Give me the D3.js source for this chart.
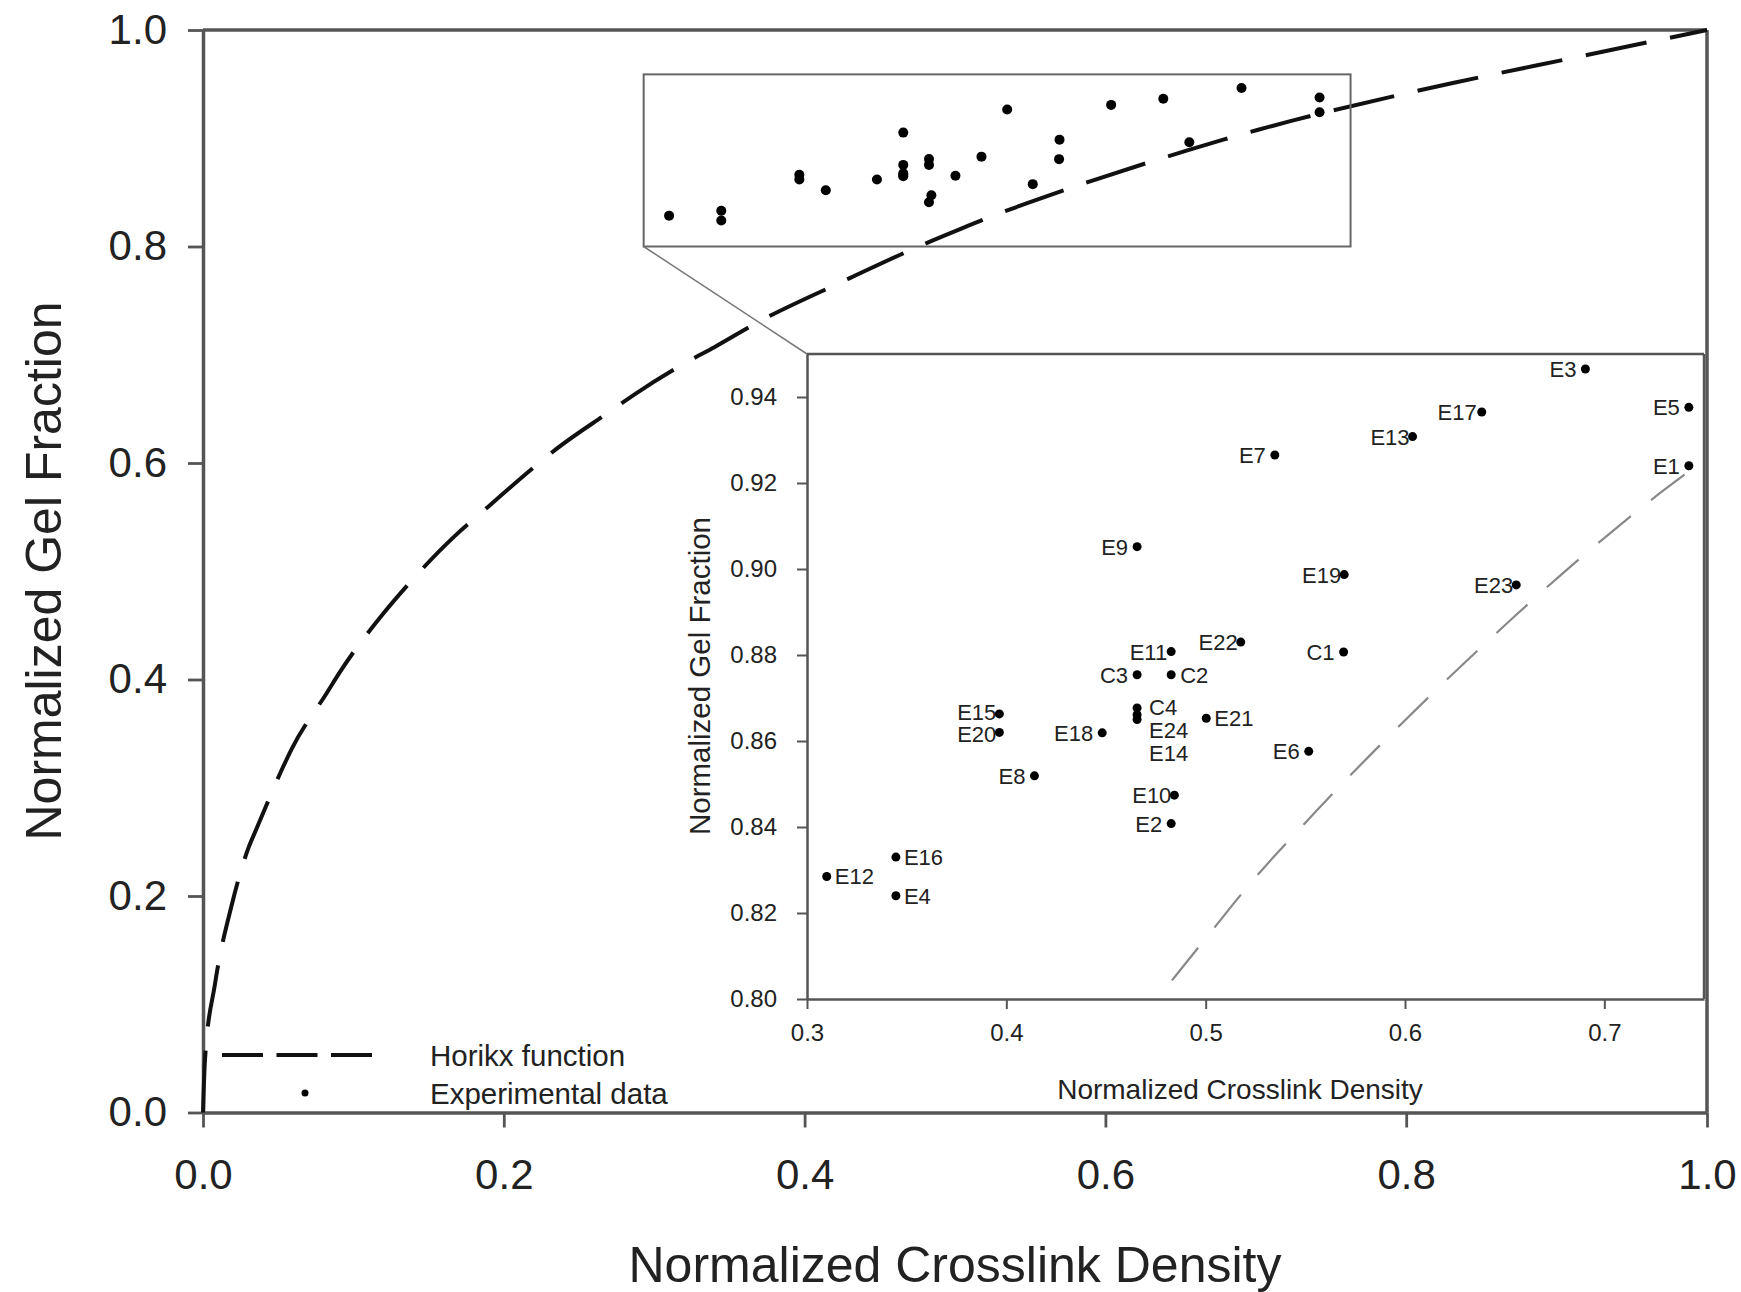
<!DOCTYPE html>
<html>
<head>
    <meta charset="utf-8">
    <title>Normalized Gel Fraction vs Crosslink Density</title>
    <script src="https://d3js.org/d3.v7.min.js"></script>
    <style>
        body{ margin: 0; background: #fff; }
        svg{ font-family: "Liberation Sans", Arial, sans-serif; }
    </style>
</head>
<body>
    <svg id="chart" width="1741" height="1292"></svg>
    <script>
        /* experimental samples */
        var names = ["E1","E2","E3","E4","E5","E6","E7","E8","E9","E10","E11","E12","E13","E14",
                     "E15","E16","E17","E18","E19","E20","E21","E22","E23","E24","C1","C2","C3","C4"];
        var crosslink = [0.7424,0.4827,0.6905,0.3446,0.7424,0.5517,0.5347,0.4141,0.4656,0.4843,0.4827,0.3099,0.6038,0.4656,
                         0.3965,0.3446,0.6385,0.4481,0.5695,0.3965,0.5003,0.5176,0.6558,0.4656,0.5692,0.4827,0.4656,0.4656];
        var gel = [0.9240,0.8408,0.9465,0.8240,0.9376,0.8576,0.9265,0.8519,0.9052,0.8474,0.8808,0.8285,0.9308,0.8650,
                   0.8663,0.8330,0.9365,0.8619,0.8987,0.8620,0.8653,0.8830,0.8963,0.8661,0.8807,0.8754,0.8754,0.8677];

        /* Horikx function */
        var horikxX = [0,0.0013,0.008,0.0191,0.0301,0.0357,0.0523,0.059,0.0822,0.0911,0.1199,0.134,0.167,0.185,
                       0.220,0.235,0.271,0.2865,0.324,0.340,0.3695,0.4227,0.4807,0.5042,0.5226,0.548,0.6315,0.655,
                       0.6784,0.701,0.7236,0.7504,0.831,0.910,1.0];
        var horikxY = [0,0.0485,0.119,0.1917,0.244,0.2625,0.3164,0.336,0.3873,0.407,0.461,0.484,0.532,0.554,
                       0.596,0.613,0.648,0.663,0.695,0.707,0.7305,0.766,0.8029,0.8165,0.827,0.840,0.8789,0.889,
                       0.8987,0.9076,0.9161,0.9254,0.951,0.974,1.0];

        var mainTicks = [0,0.2,0.4,0.6,0.8,1.0];
        var insetXTicks = [0.3,0.4,0.5,0.6,0.7];
        var insetYTicks = [0.80,0.82,0.84,0.86,0.88,0.90,0.92,0.94];
        var zoomBox = {x0: 0.293, x1: 0.763, y0: 0.80, y1: 0.959};

        /* where each label sits relative to its point */
        var labelPos = {
            "E12": ["start", 8, 0], "E16": ["start", 8, 0], "E4": ["start", 8, 0],
            "C2": ["start", 9, 0], "E21": ["start", 8, 0], "C4": ["start", 12, -1],
            "E24": ["start", 12, 15], "E14": ["start", 12, 33],
            "E15": ["end", -3, -2], "E20": ["end", -3, 2], "E13": ["end", -3, 0],
            "E19": ["end", -3, 0], "E23": ["end", -3, 0], "E22": ["end", -3, 0],
            "E10": ["end", -3, 0], "E11": ["end", -4, 0], "E17": ["end", -5, 0]
        };

        var pts = names.map(function(n, i){ return {name: n, x: crosslink[i], y: gel[i]}; });
        var curve = horikxX.map(function(v, i){ return [v, horikxY[i]]; });

        var svg = d3.select("#chart");

        var x = d3.scaleLinear().domain([0, 1]).range([203, 1707]);
        var y = d3.scaleLinear().domain([0, 1]).range([1112.5, 30]);
        var ix = d3.scaleLinear().domain([0.3, 0.75]).range([807, 1704]);
        var iy = d3.scaleLinear().domain([0.8, 0.95]).range([999, 354]);

        function styleAxis(g, size, col, w){
            g.attr("font-family", null).attr("font-size", size);
            g.select(".domain").attr("stroke", col).attr("stroke-width", w);
            g.selectAll(".tick line").attr("stroke", col).attr("stroke-width", w * 0.8);
            g.selectAll(".tick text").attr("fill", "#222");
        }

        /* ---------- main plot ---------- */
        var fmt1 = d3.format(".1f");
        svg.append("g")
            .attr("transform", "translate(0,1112.5)")
            .call(d3.axisBottom(x).tickValues(mainTicks).tickFormat(fmt1).tickSize(15).tickSizeOuter(0).tickPadding(32))
            .call(styleAxis, 42, "#555", 3.5);
        svg.append("g")
            .attr("transform", "translate(203,0)")
            .call(d3.axisLeft(y).tickValues(mainTicks).tickFormat(fmt1).tickSize(15).tickSizeOuter(0).tickPadding(21))
            .call(styleAxis, 42, "#555", 3.5);
        svg.append("line")
            .attr("x1", x(0)).attr("x2", x(1)).attr("y1", y(1)).attr("y2", y(1))
            .attr("stroke", "#555").attr("stroke-width", 3.5);
        svg.append("line")
            .attr("x1", x(1)).attr("x2", x(1)).attr("y1", y(1)).attr("y2", y(0))
            .attr("stroke", "#555").attr("stroke-width", 3.5);

        svg.append("text")
            .attr("x", 955).attr("y", 1282)
            .attr("text-anchor", "middle").attr("font-size", 50).attr("fill", "#222")
            .text("Normalized Crosslink Density");
        svg.append("text")
            .attr("transform", "translate(61,571) rotate(-90)")
            .attr("text-anchor", "middle").attr("font-size", 50).attr("fill", "#222")
            .text("Normalized Gel Fraction");

        var line = d3.line()
            .x(function(d){ return x(d[0]); })
            .y(function(d){ return y(d[1]); })
            .curve(d3.curveMonotoneX);
        svg.append("path")
            .attr("d", line(curve))
            .attr("fill", "none").attr("stroke", "#111").attr("stroke-width", 4)
            .attr("stroke-dasharray", "62,24");

        /* zoom box with the same samples */
        svg.append("rect")
            .attr("x", x(zoomBox.x0)).attr("y", y(zoomBox.y1))
            .attr("width", x(zoomBox.x1) - x(zoomBox.x0))
            .attr("height", y(zoomBox.y0) - y(zoomBox.y1))
            .attr("fill", "none").attr("stroke", "#666").attr("stroke-width", 2);
        svg.append("line")
            .attr("x1", x(zoomBox.x0)).attr("y1", y(zoomBox.y0))
            .attr("x2", ix(0.3)).attr("y2", iy(0.95))
            .attr("stroke", "#777").attr("stroke-width", 1.5);
        svg.append("g").selectAll("circle")
            .data(pts).enter().append("circle")
            .attr("cx", function(d){ return x(d.x); })
            .attr("cy", function(d){ return y(d.y); })
            .attr("r", 5).attr("fill", "#000");

        /* legend */
        svg.append("line")
            .attr("x1", 222).attr("x2", 372).attr("y1", 1055).attr("y2", 1055)
            .attr("stroke", "#111").attr("stroke-width", 4).attr("stroke-dasharray", "41,13.5");
        svg.append("circle").attr("cx", 305).attr("cy", 1093).attr("r", 3.5).attr("fill", "#000");
        svg.append("text").attr("x", 430).attr("y", 1066).attr("font-size", 29.5).attr("fill", "#222")
            .text("Horikx function");
        svg.append("text").attr("x", 430).attr("y", 1104).attr("font-size", 29.5).attr("fill", "#222")
            .text("Experimental data");

        /* ---------- inset ---------- */
        var inset = svg.append("g");
        inset.append("rect")
            .attr("x", 807).attr("y", 354).attr("width", 1704 - 807).attr("height", 999 - 354)
            .attr("fill", "#fff");
        inset.append("clipPath").attr("id", "insetClip")
            .append("rect").attr("x", 807).attr("y", 354).attr("width", 1704 - 807).attr("height", 999 - 354);

        var fmt2 = d3.format(".2f");
        inset.append("g")
            .attr("transform", "translate(0,999)")
            .call(d3.axisBottom(ix).tickValues(insetXTicks).tickFormat(fmt1).tickSize(10).tickSizeOuter(0).tickPadding(15))
            .call(styleAxis, 24, "#555", 2.5);
        inset.append("g")
            .attr("transform", "translate(807,0)")
            .call(d3.axisLeft(iy).tickValues(insetYTicks).tickFormat(fmt2).tickSize(10).tickSizeOuter(0).tickPadding(20))
            .call(styleAxis, 24, "#555", 2.5);
        inset.append("line")
            .attr("x1", 807).attr("x2", 1704).attr("y1", 354).attr("y2", 354)
            .attr("stroke", "#555").attr("stroke-width", 2.5);
        inset.append("line")
            .attr("x1", 1704).attr("x2", 1704).attr("y1", 354).attr("y2", 999)
            .attr("stroke", "#555").attr("stroke-width", 2.5);

        inset.append("text")
            .attr("x", 1240).attr("y", 1099)
            .attr("text-anchor", "middle").attr("font-size", 28).attr("fill", "#222")
            .text("Normalized Crosslink Density");
        inset.append("text")
            .attr("transform", "translate(710,676) rotate(-90)")
            .attr("text-anchor", "middle").attr("font-size", 29.5).attr("fill", "#222")
            .text("Normalized Gel Fraction");

        var iline = d3.line()
            .x(function(d){ return ix(d[0]); })
            .y(function(d){ return iy(d[1]); })
            .curve(d3.curveMonotoneX);
        inset.append("path")
            .attr("d", iline(curve.filter(function(d){ return d[0] > 0.4; })))
            .attr("clip-path", "url(#insetClip)")
            .attr("fill", "none").attr("stroke", "#888").attr("stroke-width", 2.2)
            .attr("stroke-dasharray", "42,26");

        inset.append("g").selectAll("circle")
            .data(pts).enter().append("circle")
            .attr("cx", function(d){ return ix(d.x); })
            .attr("cy", function(d){ return iy(d.y); })
            .attr("r", 4.5).attr("fill", "#000");

        inset.append("g").selectAll("text")
            .data(pts).enter().append("text")
            .attr("x", function(d){
                var p = labelPos[d.name] || ["end", -9, 0];
                return ix(d.x) + p[1];
            })
            .attr("y", function(d){
                var p = labelPos[d.name] || ["end", -9, 0];
                return iy(d.y) + p[2] + 8;
            })
            .attr("text-anchor", function(d){
                var p = labelPos[d.name] || ["end", -9, 0];
                return p[0];
            })
            .attr("font-size", 22).attr("fill", "#222")
            .text(function(d){ return d.name; });
    </script>
</body>
</html>
